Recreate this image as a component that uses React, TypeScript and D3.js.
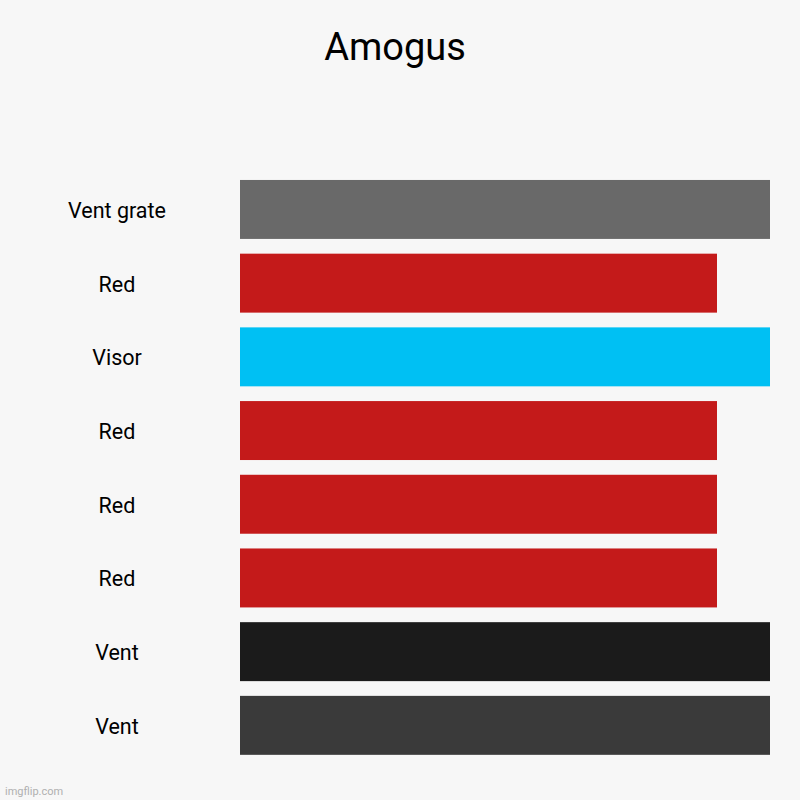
import React from "react";
import * as d3 from "d3";

const categories = ["Vent grate", "Red", "Visor", "Red", "Red", "Red", "Vent", "Vent"];
const values = [10, 9, 10, 9, 9, 9, 10, 10];
const colors = ["#696969", "#c41a1a", "#00c0f3", "#c41a1a", "#c41a1a", "#c41a1a", "#1b1b1b", "#3a3a3a"];
const title = "Amogus";

export default function App() {
  const W = 800, H = 800;
  const ids = categories.map((_, i) => String(i));
  const y = d3.scaleBand<string>().domain(ids).range([172.6, 762.2]).paddingInner(0.2).paddingOuter(0.1);
  const x = d3.scaleLinear().domain([0, 10]).range([240, 770]);
  const font = "Roboto, 'Noto Sans', sans-serif";
  return (
    <div style={{ position: "fixed", left: 0, top: 0 }}>
      <svg width={W} height={H} style={{ display: "block" }}>
        <rect x={0} y={0} width={W} height={H} fill="#f7f7f7" />
        <text x={395} y={60} textAnchor="middle" fontSize={38} fontFamily={font} fill="#000">{title}</text>
        {categories.map((c, i) => (
          <g key={i}>
            <rect x={x(0)} y={y(ids[i])} width={x(values[i]) - x(0)} height={y.bandwidth()} fill={colors[i]} />
            <text x={117} y={(y(ids[i]) as number) + y.bandwidth() / 2 + 1} dy="0.35em" textAnchor="middle" fontSize={21.5} fontFamily={font} fill="#000">{c}</text>
          </g>
        ))}
        <text x={5} y={795} fontSize={11} fontFamily={font} fill="#b0b0b0">imgflip.com</text>
      </svg>
    </div>
  );
}
